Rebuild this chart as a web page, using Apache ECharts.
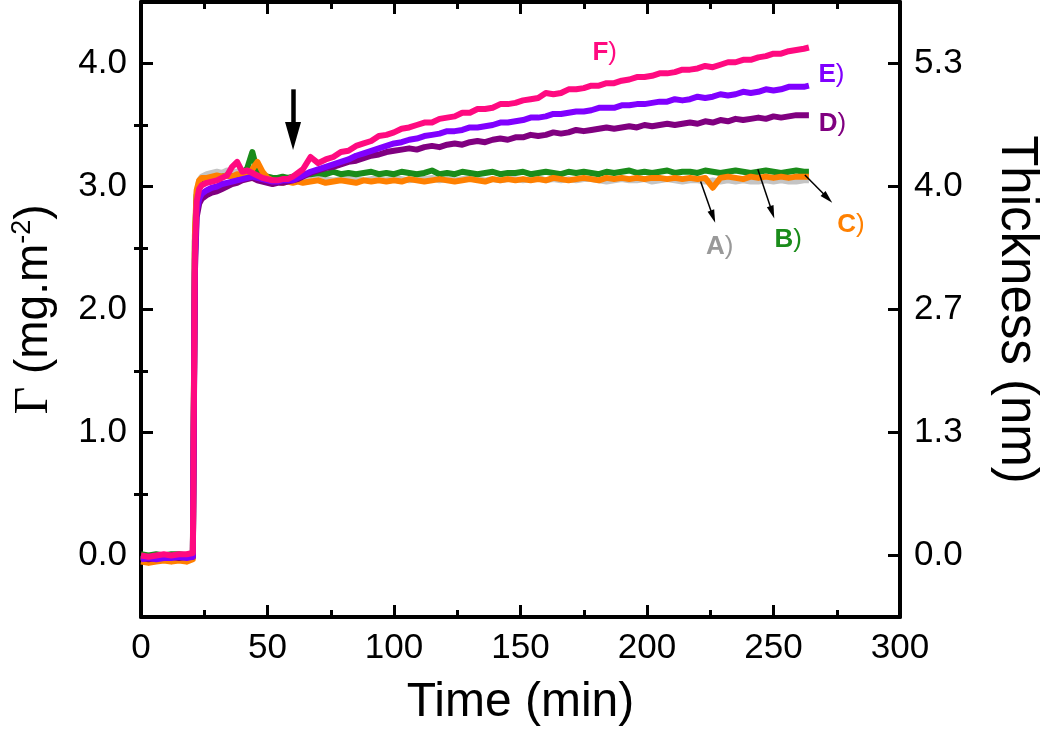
<!DOCTYPE html>
<html>
<head>
<meta charset="utf-8">
<script src="https://cdn.jsdelivr.net/npm/echarts@6/dist/echarts.min.js"></script>
<style>html,body{margin:0;padding:0;background:#fff}#c{width:1050px;height:744px}</style>
</head>
<body>
<div id="c"></div>
<script>
// ---- data (time in min, surface excess in mg.m-2) ----
const time = [0,3,6,9,12,15,18,20.5,21.3,22,23,24,
26,28,30,32,34,36,38,40,42,44,46,48,50,52,54,56,58,60,62,64,
67,70,73,76,79,82,85,88,91,94,97,100,103,106,109,112,115,118,121,124,127,130,133,136,139,142,145,148,151,154,157,160,163,166,169,172,175,178,181,184,187,190,193,196,199,202,205,208,211,214,217,220,223,226,229,232,235,238,241,244,247,250,253,256,259,262,
264];

const seriesA = [-0.01,-0.02,-0.01,-0.02,-0.01,0.00,-0.01,0.00,2.50,2.95,3.05,3.08,
3.10,3.11,3.12,3.11,3.13,3.12,3.12,3.13,3.11,3.10,3.11,3.09,3.08,3.07,3.07,3.06,3.07,3.06,3.06,3.07,
3.06,3.07,3.06,3.05,3.06,3.07,3.06,3.05,3.06,3.06,
3.05,3.07,3.06,3.05,3.06,3.06,3.07,3.05,3.06,3.05,
3.06,3.07,3.06,3.05,3.06,3.05,3.06,3.06,3.05,3.06,
3.07,3.05,3.06,3.05,3.06,3.05,3.06,3.06,3.05,3.04,
3.05,3.06,3.05,3.05,3.06,3.04,3.05,3.06,3.05,3.04,
3.05,3.05,3.04,3.05,3.04,3.05,3.04,3.05,3.04,3.04,
3.05,3.04,3.05,3.04,3.04,3.05,
3.05];

const seriesB = [0.01,0.00,0.01,0.00,0.01,0.01,0.00,0.01,2.55,2.93,3.02,3.05,
3.06,3.07,3.08,3.08,3.09,3.08,3.09,3.10,3.15,3.28,3.12,3.09,3.08,3.07,3.07,3.08,3.07,3.08,3.09,3.10,
3.10,3.11,3.10,3.12,3.10,3.11,3.10,3.11,3.12,3.10,
3.11,3.10,3.12,3.11,3.10,3.11,3.13,3.10,3.11,3.10,
3.12,3.11,3.10,3.11,3.12,3.10,3.11,3.11,3.12,3.10,
3.11,3.12,3.11,3.10,3.12,3.11,3.12,3.11,3.10,3.12,
3.11,3.12,3.13,3.11,3.12,3.11,3.12,3.13,3.11,3.12,
3.12,3.11,3.13,3.12,3.11,3.12,3.13,3.12,3.11,3.12,
3.13,3.12,3.11,3.12,3.13,3.12,
3.12];

const seriesC = [-0.05,-0.06,-0.05,-0.04,-0.05,-0.04,-0.05,-0.03,2.60,2.97,3.05,3.07,
3.07,3.08,3.09,3.08,3.09,3.08,3.10,3.09,3.10,3.14,3.20,3.12,3.07,3.05,3.04,3.03,3.04,3.03,3.04,3.03,
3.04,3.05,3.03,3.04,3.05,3.04,3.03,3.05,3.04,3.05,
3.04,3.05,3.04,3.06,3.05,3.04,3.05,3.06,3.05,3.04,
3.05,3.06,3.05,3.04,3.06,3.05,3.06,3.05,3.06,3.05,
3.06,3.05,3.07,3.06,3.05,3.06,3.07,3.06,3.05,3.07,
3.06,3.07,3.06,3.07,3.06,3.07,3.07,3.06,3.07,3.06,
3.07,3.06,3.07,2.99,3.07,3.08,3.07,3.06,3.08,3.07,
3.08,3.07,3.08,3.07,3.08,3.08,
3.08];

const seriesD = [-0.02,-0.03,-0.02,-0.02,-0.01,-0.02,-0.01,-0.01,2.30,2.75,2.86,2.90,
2.93,2.95,2.96,2.98,3.00,3.02,3.03,3.05,3.06,3.07,3.05,3.04,3.03,3.02,3.03,3.03,3.04,3.05,3.06,3.08,
3.11,3.13,3.15,3.16,3.18,3.20,3.21,3.23,3.25,3.26,
3.28,3.29,3.30,3.31,3.30,3.32,3.33,3.32,3.34,3.35,
3.34,3.36,3.37,3.36,3.38,3.39,3.38,3.40,3.40,3.42,
3.41,3.42,3.44,3.43,3.44,3.46,3.45,3.46,3.47,3.48,
3.47,3.48,3.49,3.48,3.50,3.49,3.50,3.51,3.50,3.51,
3.52,3.51,3.53,3.52,3.54,3.53,3.55,3.54,3.55,3.56,
3.55,3.57,3.56,3.57,3.58,3.58,
3.58];

const seriesE = [-0.03,-0.02,-0.03,-0.02,-0.02,-0.01,-0.02,-0.01,2.40,2.80,2.90,2.94,
2.97,2.99,3.00,3.02,3.03,3.04,3.05,3.06,3.07,3.08,3.07,3.06,3.05,3.04,3.04,3.05,3.05,3.05,3.07,3.09,
3.12,3.14,3.16,3.18,3.20,3.22,3.25,3.27,3.29,3.31,
3.33,3.35,3.36,3.38,3.39,3.41,3.42,3.43,3.45,3.45,
3.46,3.48,3.48,3.49,3.50,3.52,3.52,3.53,3.54,3.56,
3.56,3.57,3.59,3.59,3.60,3.61,3.61,3.62,3.64,3.64,
3.64,3.66,3.66,3.67,3.67,3.68,3.69,3.69,3.71,3.70,
3.71,3.73,3.72,3.73,3.75,3.74,3.75,3.77,3.76,3.77,
3.79,3.78,3.79,3.81,3.81,3.81,
3.82];

const seriesF = [0.00,-0.01,0.00,0.01,0.00,0.01,0.01,0.02,2.45,2.88,2.98,3.01,
3.03,3.04,3.05,3.07,3.09,3.16,3.20,3.12,3.13,3.11,3.09,3.07,3.06,3.05,3.05,3.06,3.06,3.08,3.11,3.14,
3.24,3.19,3.22,3.24,3.28,3.29,3.33,3.35,3.37,3.41,
3.42,3.44,3.47,3.48,3.50,3.52,3.52,3.55,3.56,3.57,
3.60,3.60,3.63,3.63,3.64,3.67,3.67,3.68,3.70,3.71,
3.72,3.76,3.75,3.76,3.79,3.79,3.80,3.82,3.82,3.84,
3.84,3.86,3.87,3.89,3.89,3.90,3.92,3.92,3.93,3.95,
3.95,3.96,3.98,3.97,3.99,4.01,4.01,4.03,4.03,4.05,
4.06,4.08,4.08,4.10,4.11,4.12,
4.13];

const seriesNames = ['A', 'B', 'C', 'D', 'E', 'F'];
const seriesColors = ['#c4c4c4', '#1a8c1a', '#ff8000', '#800080', '#8000ff', '#ff0a80'];
const labelColors  = ['#999999', '#1a8c1a', '#ff8000', '#800080', '#8000ff', '#ff0a80'];

// label anchors (time, value)
const labelPos = [[228.7, 2.51], [255.8, 2.57], [280.6, 2.69], [273.3, 3.51], [272.9, 3.91], [183.3, 4.09]];
// pointer arrows: [from, to] in data coords
const arrowA = [[221.2, 3.04], [226.1, 2.755]];
const arrowB = [[243.8, 3.14], [249.5, 2.79]];
const arrowC = [[262.4, 3.093], [271.4, 2.906]];
const bigArrow = [[60.1, 3.79], [60.1, 3.41]];

// axis ticks / labels
const gammaTicks = [0, 1, 2, 3, 4];
const gammaMinor = [0.5, 1.5, 2.5, 3.5];
const gammaLabels = ['0.0', '1.0', '2.0', '3.0', '4.0'];
const thicknessLabels = ['0.0', '1.3', '2.7', '4.0', '5.3'];

const allSeries = [seriesA, seriesB, seriesC, seriesD, seriesE, seriesF];

const FONT = '"Liberation Sans", Arial, Helvetica, sans-serif';
const chart = echarts.init(document.getElementById('c'), null, {renderer: 'canvas'});

const lineSeries = allSeries.map((vals, i) => ({
  name: seriesNames[i],
  type: 'line',
  xAxisIndex: 0, yAxisIndex: 0,
  data: time.map((t, k) => [t, vals[k]]),
  showSymbol: false, symbol: 'none',
  lineStyle: {color: seriesColors[i], width: 6, join: 'round', opacity: 1},
  z: 2 + i,
  silent: true,
  animation: false
}));

const labelSeries = {
  type: 'scatter',
  xAxisIndex: 0, yAxisIndex: 0,
  symbolSize: 0,
  silent: true,
  z: 20,
  itemStyle: {opacity: 1},
  data: seriesNames.map((n, i) => ({
    value: labelPos[i],
    itemStyle: {opacity: 1},
    label: {
      show: true, position: 'inside', opacity: 1, textBorderWidth: 0,
      formatter: '{b|' + n + '}{p|)}',
      rich: {
        b: {color: labelColors[i], fontWeight: 'bold', fontSize: 26, fontFamily: FONT, textBorderWidth: 0},
        p: {color: labelColors[i], fontWeight: 'normal', fontSize: 26, fontFamily: FONT, textBorderWidth: 0}
      }
    }
  })),
  markLine: {
    silent: true,
    animation: false,
    label: {show: false},
    lineStyle: {color: '#000', width: 1.5, type: 'solid', opacity: 1},
    symbol: ['none', 'triangle'],
    symbolSize: [7, 13],
    data: [
      [{coord: arrowA[0]}, {coord: arrowA[1]}],
      [{coord: arrowB[0]}, {coord: arrowB[1]}],
      [{coord: arrowC[0]}, {coord: arrowC[1]}],
      [{coord: bigArrow[0], lineStyle: {width: 4.5}}, {coord: bigArrow[1], symbolSize: [16, 28], lineStyle: {width: 4.5}}]
    ]
  }
};

const axisLineStyle = {color: '#000', width: 4};
const option = {
  animation: false,
  backgroundColor: '#fff',
  grid: {left: 141, right: 135, top: 2, bottom: 127, containLabel: false},
  xAxis: [
    {
      type: 'value', position: 'bottom', min: 0, max: 300, interval: 50,
      axisLine: {show: true, onZero: false, lineStyle: axisLineStyle},
      axisTick: {show: true, inside: true, length: 12, lineStyle: {color: '#000', width: 3}},
      minorTick: {show: true, splitNumber: 2, length: 7, lineStyle: {color: '#000', width: 3}},
      splitLine: {show: false},
      axisLabel: {color: '#000', fontSize: 35, fontFamily: FONT, margin: 14, showMinLabel: true, showMaxLabel: true},
      name: 'Time (min)', nameLocation: 'middle', nameGap: 62,
      nameTextStyle: {color: '#000', fontSize: 48, fontFamily: FONT}
    },
    {
      type: 'value', position: 'top', min: 0, max: 300, interval: 50,
      axisLine: {show: true, onZero: false, lineStyle: axisLineStyle},
      axisTick: {show: true, inside: true, length: 12, lineStyle: {color: '#000', width: 3}},
      minorTick: {show: true, splitNumber: 2, length: 7, lineStyle: {color: '#000', width: 3}},
      splitLine: {show: false},
      axisLabel: {show: false}
    }
  ],
  yAxis: [
    {
      type: 'value', position: 'left', min: -0.5, max: 4.5,
      axisLine: {show: true, onZero: false, lineStyle: axisLineStyle},
      axisTick: {show: true, inside: true, length: 12, customValues: gammaTicks, lineStyle: {color: '#000', width: 3}},
      splitLine: {show: false},
      axisLabel: {color: '#000', fontSize: 35, fontFamily: FONT, margin: 14, customValues: gammaTicks,
        formatter: v => { const i = gammaTicks.indexOf(Math.round(v * 100) / 100); return i < 0 ? '' : gammaLabels[i]; }},
      name: '{g|Γ} (mg.m{s|-2})', nameLocation: 'middle', nameGap: 82, nameRotate: 90,
      nameTextStyle: {color: '#000', fontSize: 46, fontFamily: FONT, lineHeight: 50,
        rich: {
          g: {fontFamily: '"Liberation Serif", "DejaVu Serif", serif', fontSize: 48, color: '#000', lineHeight: 50},
          s: {fontSize: 27, fontFamily: FONT, color: '#000', verticalAlign: 'top', lineHeight: 50}
        }}
    },
    {
      type: 'value', position: 'right', min: -0.5, max: 4.5,
      axisLine: {show: true, onZero: false, lineStyle: axisLineStyle},
      axisTick: {show: true, inside: true, length: 12, customValues: gammaTicks, lineStyle: {color: '#000', width: 3}},
      splitLine: {show: false},
      axisLabel: {color: '#000', fontSize: 35, fontFamily: FONT, margin: 14, customValues: gammaTicks,
        formatter: v => { const i = gammaTicks.indexOf(Math.round(v * 100) / 100); return i < 0 ? '' : thicknessLabels[i]; }},
      name: 'Thickness (nm)', nameLocation: 'middle', nameGap: 91, nameRotate: -90,
      nameTextStyle: {color: '#000', fontSize: 51, fontFamily: FONT}
    },
    {
      type: 'value', position: 'left', min: -0.5, max: 4.5,
      axisLine: {show: false}, splitLine: {show: false}, axisLabel: {show: false},
      axisTick: {show: true, inside: true, length: 7, customValues: gammaMinor, lineStyle: {color: '#000', width: 3}}
    },
    {
      type: 'value', position: 'right', min: -0.5, max: 4.5,
      axisLine: {show: false}, splitLine: {show: false}, axisLabel: {show: false},
      axisTick: {show: true, inside: true, length: 7, customValues: gammaMinor, lineStyle: {color: '#000', width: 3}}
    }
  ],
  series: lineSeries.concat([labelSeries])
};
chart.setOption(option);
</script>
</body>
</html>
